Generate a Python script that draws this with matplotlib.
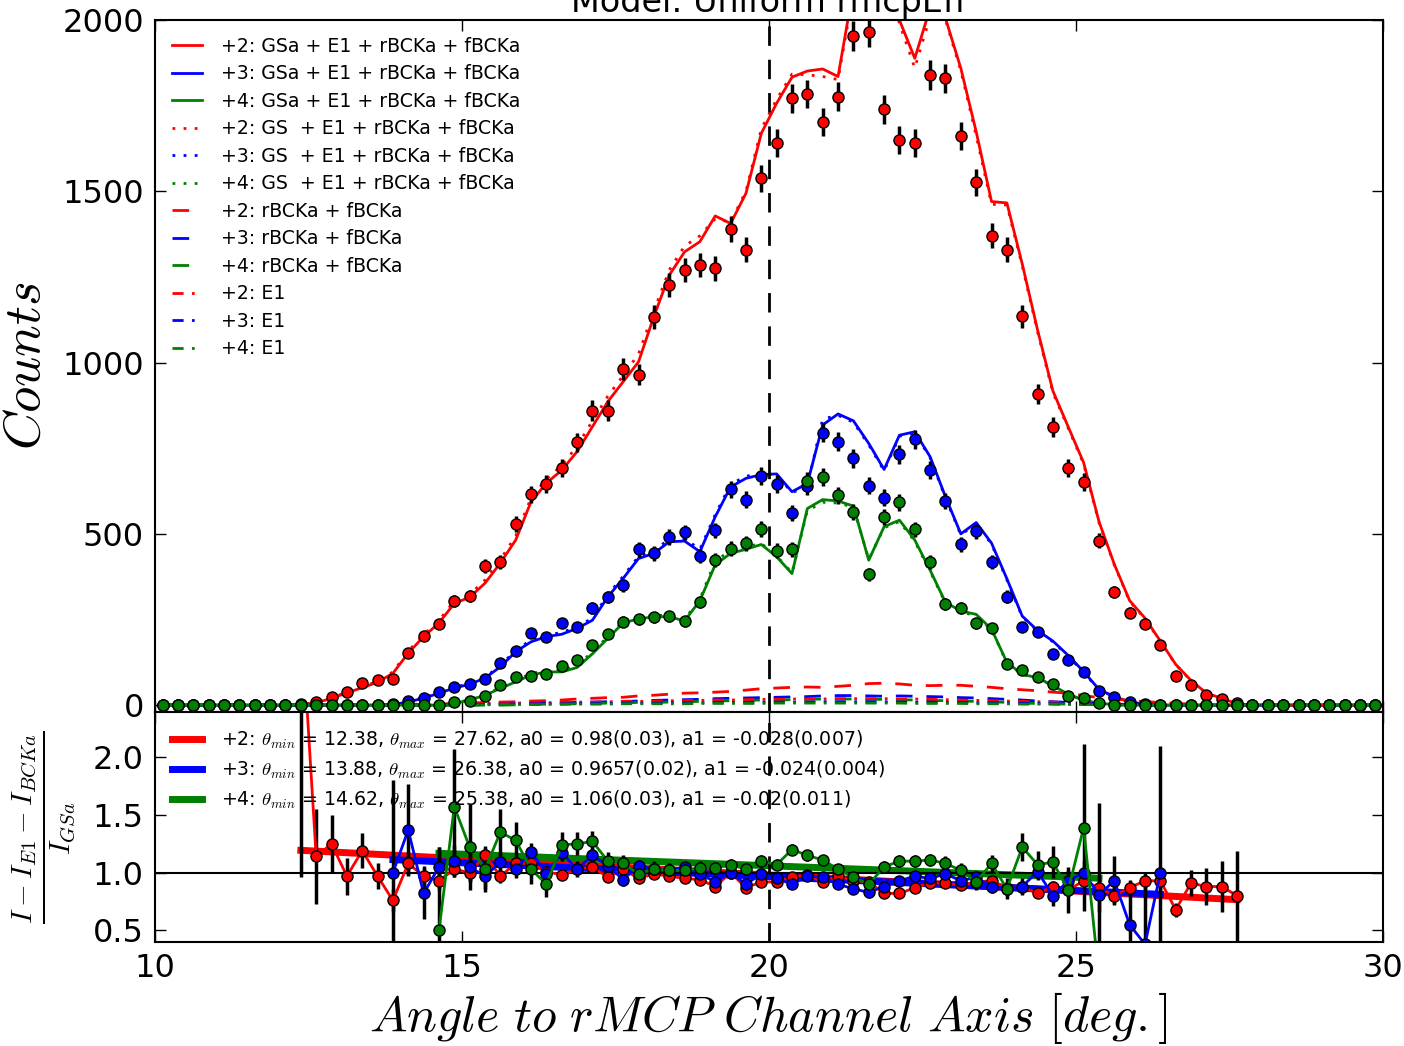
import numpy as np
import matplotlib
matplotlib.use('Agg')
import matplotlib.pyplot as plt

plt.rcParams['mathtext.fontset'] = 'cm'
plt.rcParams['font.family'] = 'DejaVu Sans'

# bin centres of the angular histogram (0.25 deg bins)
angle = np.arange(10.125, 30.0, 0.25)

# measured counts per charge state
counts_p2 = [0, 0, 0, 0, 0, 0, 0, 0, 0, 3,
             10, 25, 38, 65, 73, 77, 152, 202, 237, 304,
             318, 406, 418, 529, 616, 645, 692, 768, 860, 860,
             981, 965, 1133, 1226, 1271, 1285, 1275, 1390, 1330, 1538,
             1640, 1771, 1784, 1703, 1776, 1954, 1964, 1739, 1650, 1642,
             1839, 1830, 1661, 1526, 1370, 1330, 1135, 908, 812, 693,
             652, 480, 331, 270, 238, 176, 84, 58, 30, 18,
             6, 0, 0, 0, 0, 0, 0, 0, 0, 0]
counts_p3 = [0, 0, 0, 0, 0, 0, 0, 0, 0, 0,
             0, 0, 0, 0, 0, 3, 12, 20, 38, 53,
             61, 76, 124, 159, 211, 200, 240, 229, 284, 316,
             350, 455, 443, 491, 504, 436, 510, 630, 600, 669,
             645, 562, 639, 795, 769, 720, 641, 605, 732, 776,
             686, 596, 469, 507, 418, 317, 228, 213, 150, 133,
             98, 41, 25, 9, 3, 1, 0, 0, 0, 0,
             0, 0, 0, 0, 0, 0, 0, 0, 0, 0]
counts_p4 = [0, 0, 0, 0, 0, 0, 0, 0, 0, 0,
             0, 0, 0, 0, 0, 0, 0, 0, 1, 10,
             12, 27, 60, 83, 85, 91, 114, 131, 175, 209,
             244, 251, 257, 259, 245, 300, 423, 457, 472, 515,
             451, 455, 655, 667, 613, 564, 382, 550, 592, 513,
             418, 295, 284, 239, 226, 120, 102, 82, 61, 28,
             20, 5, 0, 0, 0, 0, 0, 0, 0, 0,
             0, 0, 0, 0, 0, 0, 0, 0, 0, 0]

# model: GSa + E1 + rBCKa + fBCKa
gsa_p2 = [0, 0, 0, 0, 0, 0, 0, 0, 0, 1,
          7, 20, 36, 51, 67, 93, 152, 200, 240, 297,
          315, 356, 415, 482, 594, 648, 686, 740, 813, 886,
          944, 1002, 1134, 1255, 1323, 1353, 1428, 1406, 1494, 1669,
          1757, 1833, 1851, 1857, 1835, 2093, 2200, 2150, 2000, 1888,
          2035, 2005, 1859, 1674, 1470, 1466, 1288, 1095, 917, 812,
          708, 536, 411, 305, 254, 187, 119, 72, 35, 20,
          4, 0, 0, 0, 0, 0, 0, 0, 0, 0]
gsa_p3 = [0, 0, 0, 0, 0, 0, 0, 0, 0, 0,
          0, 0, 0, 0, 0, 1, 10, 20, 35, 50,
          61, 79, 112, 156, 185, 200, 207, 224, 248, 316,
          370, 428, 443, 477, 479, 448, 550, 637, 662, 673,
          675, 623, 647, 818, 850, 830, 764, 688, 788, 798,
          725, 608, 500, 533, 473, 369, 260, 218, 187, 145,
          98, 46, 25, 9, 3, 0, 0, 0, 0, 0,
          0, 0, 0, 0, 0, 0, 0, 0, 0, 0]
gsa_p4 = [0, 0, 0, 0, 0, 0, 0, 0, 0, 0,
          0, 0, 0, 0, 0, 0, 0, 0, 0, 5,
          15, 29, 49, 68, 88, 97, 97, 110, 150, 195,
          240, 252, 258, 258, 246, 305, 410, 443, 455, 469,
          433, 384, 574, 600, 596, 581, 423, 521, 540, 482,
          394, 300, 275, 265, 222, 125, 90, 80, 57, 32,
          15, 5, 2, 0, 0, 0, 0, 0, 0, 0,
          0, 0, 0, 0, 0, 0, 0, 0, 0, 0]

# model: GS + E1 + rBCKa + fBCKa
gs_p2 = [0, 0, 0, 0, 0, 0, 0, 0, 0, 1,
         8, 21, 38, 53, 70, 97, 158, 206, 247, 305,
         323, 365, 425, 494, 605, 660, 700, 756, 830, 902,
         962, 1025, 1150, 1270, 1340, 1370, 1420, 1410, 1500, 1682,
         1768, 1842, 1840, 1835, 1826, 2080, 2200, 2150, 1990, 1860,
         2010, 2000, 1852, 1662, 1462, 1460, 1282, 1090, 912, 808,
         704, 533, 409, 303, 252, 186, 118, 71, 35, 19,
         4, 0, 0, 0, 0, 0, 0, 0, 0, 0]
gs_p3 = [0, 0, 0, 0, 0, 0, 0, 0, 0, 0,
         0, 0, 0, 0, 0, 1, 11, 21, 37, 52,
         63, 81, 116, 160, 190, 204, 212, 229, 254, 322,
         376, 434, 450, 485, 486, 455, 556, 645, 668, 676,
         673, 620, 640, 835, 846, 826, 760, 684, 785, 795,
         722, 605, 497, 530, 470, 366, 258, 216, 185, 143,
         96, 45, 24, 9, 3, 0, 0, 0, 0, 0,
         0, 0, 0, 0, 0, 0, 0, 0, 0, 0]
gs_p4 = [0, 0, 0, 0, 0, 0, 0, 0, 0, 0,
         0, 0, 0, 0, 0, 0, 0, 0, 0, 6,
         16, 31, 52, 72, 92, 101, 101, 115, 156, 200,
         245, 257, 262, 262, 250, 310, 420, 452, 462, 472,
         436, 386, 568, 592, 590, 578, 426, 518, 536, 478,
         390, 298, 271, 262, 220, 123, 89, 79, 56, 31,
         14, 5, 2, 0, 0, 0, 0, 0, 0, 0,
         0, 0, 0, 0, 0, 0, 0, 0, 0, 0]

# rBCKa + fBCKa
bck_p2 = [0, 0, 0, 0, 0, 0, 0, 0, 0, 0,
          0, 0, 0, 0, 0, 0, 0, 0, 2, 4,
          6, 8, 9, 10, 12, 13, 15, 18, 20, 22,
          23, 27, 29, 32, 35, 36, 38, 40, 44, 48,
          50, 52, 53, 52, 55, 58, 63, 64, 62, 58,
          57, 58, 58, 55, 52, 48, 45, 42, 38, 35,
          28, 22, 18, 14, 10, 8, 5, 3, 2, 0,
          0, 0, 0, 0, 0, 0, 0, 0, 0, 0]
bck_p3 = [0, 0, 0, 0, 0, 0, 0, 0, 0, 0,
          0, 0, 0, 0, 0, 0, 0, 0, 0, 0,
          0, 2, 3, 4, 5, 6, 7, 8, 9, 10,
          11, 12, 14, 15, 16, 17, 19, 20, 21, 22,
          23, 24, 25, 27, 28, 28, 27, 26, 27, 26,
          25, 24, 22, 21, 19, 17, 15, 12, 10, 8,
          6, 4, 3, 2, 1, 0, 0, 0, 0, 0,
          0, 0, 0, 0, 0, 0, 0, 0, 0, 0]
bck_p4 = [0, 0, 0, 0, 0, 0, 0, 0, 0, 0,
          0, 0, 0, 0, 0, 0, 0, 0, 0, 0,
          0, 0, 0, 1, 2, 3, 3, 4, 5, 6,
          7, 8, 8, 9, 10, 11, 12, 13, 14, 15,
          15, 16, 17, 18, 18, 18, 17, 17, 16, 15,
          14, 13, 12, 11, 10, 8, 6, 5, 4, 3,
          2, 1, 0, 0, 0, 0, 0, 0, 0, 0,
          0, 0, 0, 0, 0, 0, 0, 0, 0, 0]

# E1 component
e1_p2 = [0, 0, 0, 0, 0, 0, 0, 0, 0, 0,
         0, 0, 0, 0, 1, 2, 2, 3, 3, 4,
         4, 5, 5, 6, 7, 7, 8, 9, 9, 10,
         11, 11, 12, 13, 13, 14, 15, 15, 16, 17,
         17, 18, 18, 18, 19, 19, 19, 19, 18, 18,
         17, 16, 15, 14, 13, 12, 11, 10, 9, 8,
         7, 6, 5, 4, 3, 2, 2, 1, 0, 0,
         0, 0, 0, 0, 0, 0, 0, 0, 0, 0]
e1_p3 = [0, 0, 0, 0, 0, 0, 0, 0, 0, 0,
         0, 0, 0, 0, 0, 0, 1, 1, 2, 2,
         2, 3, 3, 3, 4, 4, 4, 5, 5, 5,
         6, 6, 6, 7, 7, 7, 8, 8, 8, 9,
         9, 9, 9, 10, 10, 10, 10, 10, 9, 9,
         9, 8, 8, 7, 7, 6, 6, 5, 4, 4,
         3, 3, 2, 2, 1, 1, 0, 0, 0, 0,
         0, 0, 0, 0, 0, 0, 0, 0, 0, 0]
e1_p4 = [0, 0, 0, 0, 0, 0, 0, 0, 0, 0,
         0, 0, 0, 0, 0, 0, 0, 0, 0, 1,
         1, 1, 2, 2, 2, 2, 3, 3, 3, 3,
         4, 4, 4, 4, 4, 5, 5, 5, 5, 5,
         6, 6, 6, 6, 6, 6, 6, 6, 6, 5,
         5, 5, 5, 4, 4, 4, 3, 3, 3, 2,
         2, 1, 1, 0, 0, 0, 0, 0, 0, 0,
         0, 0, 0, 0, 0, 0, 0, 0, 0, 0]

# (I - I_E1 - I_BCKa) / I_GSa inside the fit window, with errors
ratio_p2 = [3.3, 1.14, 1.25, 0.97, 1.19, 0.97, 0.76, 1.08, 0.97, 0.93,
            1.03, 1.00, 1.15, 0.97, 1.08, 1.08, 1.01, 0.98, 1.03, 1.05,
            0.96, 1.03, 0.95, 0.99, 0.97, 0.95, 0.94, 0.88, 1.00, 0.87,
            0.92, 0.92, 0.96, 0.98, 0.92, 0.97, 0.93, 0.92, 0.82, 0.82,
            0.87, 0.91, 0.91, 0.89, 0.92, 0.93, 0.87, 0.88, 0.82, 0.88,
            0.85, 0.93, 0.87, 0.80, 0.87, 0.93, 0.93, 0.68, 0.91, 0.88,
            0.88, 0.80]
ratio_err_p2 = [2.34, 0.41, 0.25, 0.16, 0.15, 0.11, 0.10, 0.10, 0.09, 0.08,
                0.07, 0.07, 0.06, 0.06, 0.05, 0.05, 0.045, 0.045, 0.04, 0.04,
                0.04, 0.035, 0.035, 0.035, 0.03, 0.03, 0.03, 0.03, 0.03, 0.03,
                0.03, 0.03, 0.03, 0.03, 0.03, 0.03, 0.03, 0.03, 0.03, 0.03,
                0.03, 0.03, 0.03, 0.03, 0.03, 0.035, 0.035, 0.04, 0.04, 0.045,
                0.05, 0.05, 0.06, 0.07, 0.07, 0.08, 0.09, 0.06, 0.11, 0.16,
                0.22, 0.39]
ratio_p3 = [1.00, 1.37, 0.82, 1.05, 1.10, 1.05, 0.97, 1.09, 1.03, 1.18,
            0.99, 1.17, 1.03, 1.15, 1.06, 0.94, 1.06, 1.03, 1.02, 1.05,
            0.99, 0.92, 1.00, 0.90, 0.99, 0.95, 0.90, 0.97, 0.96, 0.90,
            0.86, 0.83, 0.88, 0.93, 0.97, 0.95, 0.99, 0.93, 0.96, 0.88,
            0.86, 0.88, 1.01, 0.80, 0.93, 1.00, 0.81, 0.93, 0.55, 0.38,
            1.00]
ratio_err_p3 = [0.80, 0.40, 0.22, 0.17, 0.14, 0.13, 0.11, 0.09, 0.08, 0.08,
                0.07, 0.07, 0.07, 0.065, 0.06, 0.055, 0.05, 0.05, 0.045, 0.045,
                0.045, 0.045, 0.045, 0.045, 0.045, 0.045, 0.045, 0.045, 0.045, 0.045,
                0.045, 0.045, 0.045, 0.045, 0.045, 0.045, 0.045, 0.045, 0.05, 0.055,
                0.06, 0.07, 0.07, 0.09, 0.09, 0.10, 0.15, 0.21, 0.35, 0.60,
                1.10]
ratio_p4 = [0.50, 1.57, 1.22, 1.03, 1.35, 1.28, 1.03, 0.90, 1.24, 1.25,
            1.27, 1.10, 1.08, 0.99, 1.03, 1.02, 1.02, 1.04, 1.04, 1.07,
            1.03, 1.10, 1.07, 1.20, 1.15, 1.11, 1.03, 0.96, 0.90, 1.05,
            1.10, 1.10, 1.11, 1.08, 1.02, 0.92, 1.08, 0.86, 1.22, 1.07,
            1.09, 0.85, 1.39, 0.10]
ratio_err_p4 = [0.72, 0.50, 0.37, 0.20, 0.20, 0.16, 0.13, 0.11, 0.11, 0.10,
                0.09, 0.08, 0.07, 0.07, 0.07, 0.065, 0.065, 0.06, 0.055, 0.05,
                0.05, 0.05, 0.05, 0.05, 0.045, 0.045, 0.045, 0.045, 0.05, 0.05,
                0.05, 0.05, 0.055, 0.065, 0.065, 0.07, 0.07, 0.09, 0.12, 0.12,
                0.14, 0.20, 0.72, 1.50]

# linear fits a0 + a1*(theta - 20) over [theta_min, theta_max]
theta_min = [12.375, 13.875, 14.625]
theta_max = [27.625, 26.375, 25.375]
fit_a0 = [0.98, 0.9657, 1.06]
fit_a1 = [-0.028, -0.024, -0.02]
fit_labels = [r'+2: $\theta_{min}$ = 12.38, $\theta_{max}$ = 27.62, a0 = 0.98(0.03), a1 = -0.028(0.007)',
              r'+3: $\theta_{min}$ = 13.88, $\theta_{max}$ = 26.38, a0 = 0.9657(0.02), a1 = -0.024(0.004)',
              r'+4: $\theta_{min}$ = 14.62, $\theta_{max}$ = 25.38, a0 = 1.06(0.03), a1 = -0.02(0.011)']

charges = ['+2', '+3', '+4']
colors = ['r', 'b', 'g']
counts = [counts_p2, counts_p3, counts_p4]
gsa = [gsa_p2, gsa_p3, gsa_p4]
gs = [gs_p2, gs_p3, gs_p4]
bck = [bck_p2, bck_p3, bck_p4]
e1 = [e1_p2, e1_p3, e1_p4]
ratios = [ratio_p2, ratio_p3, ratio_p4]
ratio_errs = [ratio_err_p2, ratio_err_p3, ratio_err_p4]

fig = plt.figure(figsize=(14.04, 10.46), dpi=100)
ax1 = fig.add_axes([0.1104, 0.3193, 0.8746, 0.6616])
ax2 = fig.add_axes([0.1104, 0.0994, 0.8746, 0.2199])

# top panel: model curves first, legend order follows the original
for i in range(3):
    ax1.plot(angle, gsa[i], color=colors[i], lw=2,
             label=charges[i] + ': GSa + E1 + rBCKa + fBCKa')
for i in range(3):
    ax1.plot(angle, gs[i], color=colors[i], lw=2, ls=(0, (1, 3)),
             label=charges[i] + ': GS  + E1 + rBCKa + fBCKa')
for i in range(3):
    ax1.plot(angle, bck[i], color=colors[i], lw=2, ls=(0, (6, 5)),
             label=charges[i] + ': rBCKa + fBCKa')
for i in range(3):
    ax1.plot(angle, e1[i], color=colors[i], lw=2, ls=(0, (4, 3, 1, 3)),
             label=charges[i] + ': E1')

# data with poisson errors
for i in range(3):
    c = np.array(counts[i], dtype=float)
    ax1.errorbar(angle, c, yerr=np.sqrt(c), fmt='o', color=colors[i], mec='k',
                 ms=8, mew=1, ecolor='k', elinewidth=2.5, capsize=0, zorder=3)

ax1.axvline(20, color='k', lw=2, ls=(0, (7, 5)))
ax1.set_xlim(10, 30)
ax1.set_ylim(-20, 2000)
ax1.set_yticks([0, 500, 1000, 1500, 2000])
ax1.set_xticks([10, 15, 20, 25, 30])
ax1.tick_params(labelbottom=False)
ax1.set_ylabel(r'$Counts$', fontsize=38)
ax1.yaxis.set_label_coords(-0.085, 0.5)
ax1.set_title('Model: Uniform rmcpEff', fontsize=24, pad=6)
ax1.legend(loc='upper left', frameon=False, fontsize=13.6, handlelength=1.6,
           handletextpad=1.0, labelspacing=0.45)

# bottom panel: ratio and linear fits
for i in range(3):
    fx = np.array([theta_min[i], theta_max[i]])
    ax2.plot(fx, fit_a0[i] + fit_a1[i] * (fx - 20), color=colors[i], lw=5,
             label=fit_labels[i])
for i in range(3):
    sel = (angle > theta_min[i] - 0.01) & (angle < theta_max[i] + 0.01)
    ax2.errorbar(angle[sel], ratios[i], yerr=ratio_errs[i], fmt='-o',
                 color=colors[i], lw=2, mec='k', ms=8, mew=1, ecolor='k',
                 elinewidth=2.5, capsize=0)

ax2.axhline(1.0, color='k', lw=1.5)
ax2.axvline(20, color='k', lw=2, ls=(0, (7, 5)))
ax2.set_xlim(10, 30)
ax2.set_ylim(0.4, 2.39)
ax2.set_yticks([0.5, 1.0, 1.5, 2.0])
ax2.set_xticks([10, 15, 20, 25, 30])
ax2.set_ylabel(r'$\frac{I - I_{E1} - I_{BCKa}}{I_{GSa}}$', fontsize=30)
ax2.yaxis.set_label_coords(-0.063, 0.5)
ax2.set_xlabel(r'$Angle\ to\ rMCP\ Channel\ Axis\ [deg.]$', fontsize=36,
               labelpad=4)
ax2.legend(loc='upper left', frameon=False, fontsize=13.6, handlelength=1.6,
           handletextpad=1.0, labelspacing=0.4)

for ax in (ax1, ax2):
    ax.tick_params(direction='in', top=True, right=True, length=8, width=1,
                   labelsize=23, pad=8)
    for sp in ax.spines.values():
        sp.set_linewidth(1.5)

fig.savefig('out.png', dpi=100)
